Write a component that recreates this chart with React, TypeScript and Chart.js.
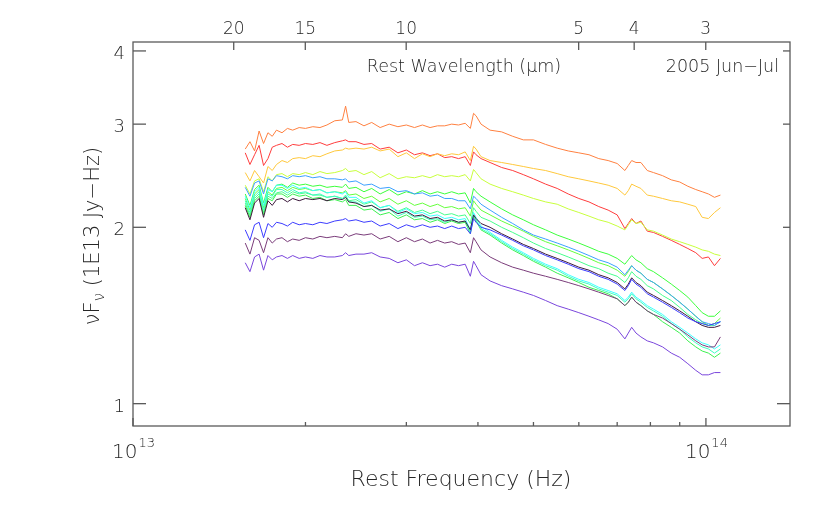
import React, { useEffect, useRef } from 'react';
import { Chart, registerables } from 'chart.js';

Chart.register(...registerables);

// Rest frequency in units of 1E13 Hz
const freq = [
  1.57, 1.60, 1.63, 1.66, 1.69, 1.72, 1.75, 1.78, 1.82, 1.86,
  1.90, 1.95, 2.00, 2.06, 2.12, 2.18, 2.25, 2.32, 2.35, 2.38,
  2.45, 2.53, 2.61, 2.70, 2.80, 2.90, 3.00, 3.10, 3.20, 3.30,
  3.40, 3.50, 3.60, 3.70, 3.80, 3.88, 3.93, 3.97, 4.05, 4.20,
  4.40, 4.60, 4.80, 5.00, 5.25, 5.50, 5.75, 6.00, 6.25, 6.50,
  6.75, 7.00, 7.22, 7.32, 7.42, 7.55, 7.70, 7.90, 8.10, 8.40,
  8.70, 9.00, 9.30, 9.60, 9.85, 10.10, 10.35, 10.60,
];

const orangeSeries = [
  2.72, 2.80, 2.70, 2.92, 2.78, 2.90, 2.86, 2.93, 2.90, 2.95,
  2.93, 2.96, 2.95, 2.97, 2.96, 2.99, 3.04, 3.05, 3.22, 3.02,
  3.03, 2.98, 3.02, 2.96, 3.00, 2.97, 2.99, 2.96, 2.99, 2.96,
  2.98, 2.98, 3.00, 2.99, 3.01, 2.95, 3.13, 3.10, 3.00, 2.93,
  2.91, 2.86, 2.82, 2.82, 2.77, 2.73, 2.70, 2.68, 2.66, 2.62,
  2.60, 2.57, 2.50, 2.55, 2.60, 2.58, 2.58, 2.50, 2.48, 2.45,
  2.41, 2.39, 2.35, 2.32, 2.30, 2.28, 2.25, 2.27,
];

const redSeries = [
  2.68, 2.56, 2.66, 2.76, 2.55, 2.62, 2.74, 2.76, 2.78, 2.74,
  2.77, 2.76, 2.78, 2.77, 2.79, 2.76, 2.79, 2.81, 2.82, 2.80,
  2.80, 2.77, 2.78, 2.72, 2.74, 2.68, 2.71, 2.66, 2.68, 2.65,
  2.67, 2.63, 2.64, 2.62, 2.64, 2.55, 2.69, 2.66, 2.62, 2.58,
  2.53, 2.50, 2.46, 2.42, 2.37, 2.33, 2.28, 2.24, 2.21, 2.17,
  2.14, 2.10, 1.99, 2.03, 2.07, 2.03, 2.05, 1.97, 1.96, 1.93,
  1.90, 1.87, 1.84, 1.81, 1.77, 1.78, 1.72, 1.77,
];

const goldSeries = [
  2.48, 2.40, 2.50, 2.44, 2.38, 2.54, 2.50, 2.56, 2.60, 2.58,
  2.62, 2.63, 2.62, 2.65, 2.64, 2.67, 2.70, 2.71, 2.73, 2.72,
  2.73, 2.72, 2.74, 2.70, 2.72, 2.64, 2.68, 2.62, 2.67, 2.64,
  2.67, 2.65, 2.67, 2.66, 2.69, 2.60, 2.75, 2.72, 2.64, 2.60,
  2.58, 2.56, 2.54, 2.52, 2.50, 2.47, 2.44, 2.42, 2.40, 2.38,
  2.36, 2.33, 2.27, 2.31, 2.37, 2.35, 2.33, 2.27, 2.26, 2.24,
  2.22, 2.21, 2.19, 2.17, 2.08, 2.07, 2.12, 2.16,
];

const yellowGreenSeries = [
  2.36, 2.28, 2.40, 2.42, 2.30, 2.44, 2.40, 2.46, 2.47, 2.44,
  2.47, 2.46, 2.48, 2.46, 2.49, 2.47, 2.48, 2.50, 2.52, 2.49,
  2.50, 2.46, 2.49, 2.43, 2.47, 2.42, 2.44, 2.43, 2.45, 2.43,
  2.46, 2.44, 2.45, 2.44, 2.46, 2.40, 2.51, 2.48, 2.42, 2.37,
  2.33, 2.30, 2.27, 2.24, 2.21, 2.19, 2.15, 2.12, 2.09, 2.06,
  2.04, 2.01, 1.98, 2.02, 2.06, 2.03, 2.04, 1.98, 1.97, 1.94,
  1.91, 1.89, 1.87, 1.85, 1.83, 1.82, 1.80, 1.79,
];

const greenTopSeries = [
  2.28, 2.18, 2.32, 2.36, 2.20, 2.34, 2.30, 2.36, 2.37, 2.34,
  2.38, 2.36, 2.37, 2.35, 2.36, 2.34, 2.35, 2.34, 2.37, 2.33,
  2.34, 2.30, 2.33, 2.28, 2.32, 2.27, 2.30, 2.28, 2.31, 2.28,
  2.30, 2.28, 2.30, 2.28, 2.29, 2.20, 2.33, 2.30, 2.26, 2.21,
  2.15, 2.10, 2.06, 2.02, 1.98, 1.94, 1.91, 1.88, 1.85, 1.82,
  1.80, 1.77, 1.73, 1.76, 1.79, 1.76, 1.74, 1.70, 1.68, 1.64,
  1.60, 1.56, 1.52, 1.47, 1.43, 1.41, 1.41, 1.44,
];

const skyBlueSeries = [
  2.34, 2.26, 2.38, 2.40, 2.28, 2.42, 2.40, 2.45, 2.44, 2.42,
  2.45, 2.44, 2.45, 2.43, 2.44, 2.42, 2.42, 2.41, 2.42, 2.39,
  2.40, 2.36, 2.37, 2.33, 2.34, 2.30, 2.31, 2.28, 2.29, 2.26,
  2.27, 2.24, 2.24, 2.22, 2.22, 2.15, 2.26, 2.24, 2.19, 2.14,
  2.08, 2.03, 1.98, 1.94, 1.91, 1.88, 1.85, 1.82, 1.79, 1.76,
  1.74, 1.71, 1.66, 1.69, 1.72, 1.69, 1.67, 1.63, 1.61, 1.57,
  1.53, 1.49, 1.45, 1.41, 1.38, 1.37, 1.36, 1.38,
];

const greenSecondSeries = [
  2.24, 2.14, 2.28, 2.32, 2.16, 2.30, 2.27, 2.33, 2.34, 2.31,
  2.34, 2.32, 2.33, 2.31, 2.32, 2.29, 2.30, 2.29, 2.31, 2.27,
  2.28, 2.24, 2.26, 2.21, 2.24, 2.19, 2.22, 2.18, 2.20, 2.17,
  2.19, 2.16, 2.17, 2.15, 2.16, 2.09, 2.22, 2.19, 2.14, 2.10,
  2.05, 2.01, 1.97, 1.93, 1.89, 1.86, 1.83, 1.80, 1.77, 1.74,
  1.72, 1.69, 1.65, 1.68, 1.72, 1.69, 1.67, 1.63, 1.61, 1.57,
  1.53, 1.49, 1.45, 1.41, 1.38, 1.36, 1.37, 1.40,
];

const greenThirdSeries = [
  2.20, 2.10, 2.24, 2.28, 2.12, 2.26, 2.24, 2.29, 2.30, 2.27,
  2.30, 2.28, 2.29, 2.27, 2.27, 2.25, 2.26, 2.24, 2.27, 2.22,
  2.23, 2.19, 2.21, 2.16, 2.18, 2.13, 2.16, 2.12, 2.14, 2.11,
  2.13, 2.10, 2.11, 2.09, 2.10, 2.03, 2.16, 2.13, 2.08, 2.05,
  2.00, 1.96, 1.92, 1.88, 1.84, 1.81, 1.78, 1.75, 1.72, 1.70,
  1.67, 1.65, 1.61, 1.64, 1.68, 1.65, 1.63, 1.59, 1.57, 1.53,
  1.50, 1.46, 1.42, 1.39, 1.37, 1.36, 1.36, 1.38,
];

const darkSeries = [
  2.16, 2.06, 2.20, 2.24, 2.08, 2.22, 2.18, 2.23, 2.24, 2.21,
  2.24, 2.22, 2.24, 2.23, 2.24, 2.22, 2.24, 2.23, 2.25, 2.21,
  2.20, 2.17, 2.18, 2.14, 2.15, 2.11, 2.13, 2.09, 2.10, 2.07,
  2.08, 2.05, 2.06, 2.04, 2.05, 1.98, 2.10, 2.07, 2.03, 2.00,
  1.95, 1.91, 1.87, 1.84, 1.80, 1.77, 1.74, 1.71, 1.69, 1.66,
  1.64, 1.61, 1.57, 1.60, 1.64, 1.61, 1.59, 1.55, 1.53, 1.50,
  1.47, 1.44, 1.41, 1.38, 1.36, 1.35, 1.35, 1.36,
];

const blueSeries = [
  1.98, 1.90, 2.02, 2.04, 1.92, 2.03, 2.00, 2.04, 2.03, 2.01,
  2.04, 2.02, 2.03, 2.02, 2.04, 2.03, 2.05, 2.06, 2.07, 2.05,
  2.06, 2.04, 2.05, 2.01, 2.03, 1.99, 2.02, 2.00, 2.02, 2.00,
  2.01, 1.99, 2.01, 1.99, 2.00, 1.95, 2.07, 2.04, 2.00, 1.98,
  1.94, 1.90, 1.86, 1.83, 1.79, 1.76, 1.73, 1.70, 1.68, 1.65,
  1.63, 1.60, 1.56, 1.59, 1.63, 1.60, 1.58, 1.54, 1.52, 1.49,
  1.46, 1.43, 1.40, 1.38, 1.37, 1.36, 1.37, 1.38,
];

const cyanSeries = [
  2.26, 2.16, 2.30, 2.34, 2.18, 2.32, 2.30, 2.36, 2.36, 2.33,
  2.36, 2.33, 2.34, 2.31, 2.32, 2.29, 2.30, 2.28, 2.30, 2.25,
  2.25, 2.20, 2.22, 2.16, 2.18, 2.12, 2.15, 2.11, 2.12, 2.09,
  2.10, 2.07, 2.08, 2.06, 2.07, 1.98, 2.12, 2.08, 2.01, 1.96,
  1.90, 1.85, 1.81, 1.77, 1.73, 1.70, 1.66, 1.63, 1.61, 1.58,
  1.56, 1.54, 1.50, 1.52, 1.55, 1.52, 1.50, 1.47, 1.45, 1.42,
  1.38, 1.35, 1.32, 1.29, 1.27, 1.26, 1.24, 1.26,
];

const aquaSeries = [
  2.22, 2.12, 2.26, 2.30, 2.14, 2.28, 2.26, 2.32, 2.32, 2.29,
  2.32, 2.29, 2.30, 2.27, 2.28, 2.25, 2.26, 2.24, 2.26, 2.21,
  2.21, 2.17, 2.18, 2.13, 2.15, 2.09, 2.12, 2.08, 2.09, 2.06,
  2.07, 2.04, 2.06, 2.04, 2.05, 1.96, 2.10, 2.06, 1.99, 1.95,
  1.89, 1.84, 1.80, 1.76, 1.72, 1.69, 1.65, 1.62, 1.60, 1.57,
  1.55, 1.53, 1.49, 1.51, 1.54, 1.51, 1.49, 1.46, 1.44, 1.41,
  1.37, 1.34, 1.30, 1.27, 1.25, 1.24, 1.22, 1.24,
];

const greenLowSeries = [
  2.18, 2.08, 2.22, 2.26, 2.10, 2.24, 2.22, 2.28, 2.28, 2.25,
  2.28, 2.26, 2.27, 2.24, 2.25, 2.22, 2.23, 2.21, 2.23, 2.18,
  2.18, 2.14, 2.15, 2.10, 2.12, 2.07, 2.10, 2.06, 2.07, 2.04,
  2.06, 2.03, 2.05, 2.03, 2.04, 1.95, 2.09, 2.05, 1.98, 1.94,
  1.88, 1.83, 1.79, 1.75, 1.71, 1.67, 1.64, 1.61, 1.58, 1.56,
  1.54, 1.51, 1.47, 1.49, 1.52, 1.49, 1.47, 1.44, 1.42, 1.38,
  1.35, 1.32, 1.28, 1.25, 1.23, 1.22, 1.20, 1.22,
];

const purpleSeries = [
  1.88, 1.80, 1.92, 1.90, 1.81, 1.92, 1.88, 1.91, 1.92, 1.89,
  1.91, 1.90, 1.92, 1.91, 1.93, 1.92, 1.93, 1.92, 1.95, 1.93,
  1.95, 1.94, 1.95, 1.91, 1.93, 1.89, 1.92, 1.89, 1.91, 1.88,
  1.90, 1.88, 1.89, 1.87, 1.88, 1.81, 1.92, 1.89, 1.83, 1.78,
  1.74, 1.71, 1.69, 1.67, 1.65, 1.63, 1.61, 1.59, 1.57, 1.55,
  1.53, 1.51, 1.47, 1.49, 1.52, 1.49, 1.47, 1.44, 1.42, 1.40,
  1.37, 1.34, 1.31, 1.28, 1.26, 1.25, 1.25, 1.30,
];

const violetSeries = [
  1.74, 1.68, 1.78, 1.80, 1.69, 1.79, 1.76, 1.78, 1.79, 1.77,
  1.79, 1.77, 1.78, 1.77, 1.79, 1.78, 1.78, 1.79, 1.81, 1.79,
  1.80, 1.80, 1.81, 1.78, 1.77, 1.74, 1.76, 1.72, 1.74, 1.72,
  1.73, 1.71, 1.73, 1.72, 1.73, 1.65, 1.75, 1.72, 1.66, 1.62,
  1.59, 1.57, 1.55, 1.53, 1.50, 1.47, 1.45, 1.43, 1.41, 1.39,
  1.37, 1.34, 1.29, 1.32, 1.35, 1.32, 1.30, 1.28, 1.27, 1.25,
  1.22, 1.20, 1.17, 1.14, 1.12, 1.12, 1.13, 1.13,
];

const seriesList = [
  violetSeries, purpleSeries, blueSeries, darkSeries, skyBlueSeries,
  cyanSeries, aquaSeries, greenLowSeries, greenThirdSeries, greenSecondSeries,
  greenTopSeries, yellowGreenSeries, goldSeries, orangeSeries, redSeries,
];
const seriesColors = [
  '#7a46dc', '#7a3c7a', '#3c3cff', '#3c1a3c', '#3ca0ff',
  '#3cffff', '#3cffc0', '#3cf050', '#46ff8c', '#64ff3c',
  '#3cff3c', '#c8ff3c', '#ffc83c', '#ff8040', '#ff3c3c',
];

// Axis annotations
const yTickValues = [1, 2, 3, 4];
const xMinorTicks = [2, 3, 4, 5, 6, 7, 8, 9];
const xMajorTicks = [1, 10];
const xMajorExponents = ['13', '14'];
const wavelengthTicks = [20, 15, 10, 5, 4, 3];
const lightSpeed = 29.98; // 1E13 Hz * micron

const TEXT = '#262626';
const AXIS = '#5a5a5a';
const FONT = '"DejaVu Sans", sans-serif';
const W = '200';

const decorPlugin = {
  id: 'decor',
  afterDraw(chart: any) {
    const { ctx, chartArea: a, scales } = chart;
    const xs = scales.x;
    const ys = scales.y;
    const line = (x1: number, y1: number, x2: number, y2: number) => {
      ctx.beginPath();
      ctx.moveTo(x1, y1);
      ctx.lineTo(x2, y2);
      ctx.stroke();
    };
    ctx.save();
    ctx.strokeStyle = AXIS;
    ctx.lineWidth = 1.3;
    ctx.strokeRect(a.left, a.top, a.right - a.left, a.bottom - a.top);

    // y ticks + labels
    ctx.fillStyle = TEXT;
    ctx.font = `${W} 18px ${FONT}`;
    ctx.textAlign = 'right';
    ctx.textBaseline = 'alphabetic';
    yTickValues.forEach((v) => {
      const py = ys.getPixelForValue(v);
      line(a.left, py, a.left + 13, py);
      const rl = v === 1 ? 13 : 7;
      line(a.right - rl, py, a.right, py);
      ctx.fillText(String(v), a.left - 8, py + 8);
    });

    // bottom ticks
    xMinorTicks.forEach((v) => {
      const px = xs.getPixelForValue(v);
      line(px, a.bottom, px, a.bottom - 4);
    });
    xMajorTicks.forEach((v, i) => {
      const px = xs.getPixelForValue(v);
      line(px, a.bottom, px, a.bottom - 8);
      ctx.textAlign = 'left';
      ctx.font = `${W} 20px ${FONT}`;
      ctx.fillText('10', px - 21, 458);
      const w = ctx.measureText('10').width;
      ctx.font = `${W} 13px ${FONT}`;
      ctx.fillText(xMajorExponents[i], px - 21 + w + 1, 447);
    });

    // top wavelength ticks
    ctx.font = `${W} 17px ${FONT}`;
    ctx.textAlign = 'center';
    wavelengthTicks.forEach((l) => {
      const px = xs.getPixelForValue(lightSpeed / l);
      line(px, a.top, px, a.top + 8);
      ctx.fillText(String(l), px, 34);
    });

    // titles
    ctx.font = `${W} 17.5px ${FONT}`;
    ctx.textAlign = 'center';
    ctx.fillText('Rest Wavelength (\u03bcm)', 464, 72);
    ctx.textAlign = 'right';
    ctx.fillText('2005 Jun\u2212Jul', 779, 72);

    ctx.font = `${W} 22px ${FONT}`;
    ctx.textAlign = 'center';
    ctx.fillText('Rest Frequency (Hz)', 461, 486);

    // y title rotated
    ctx.translate(99, 236);
    ctx.rotate(-Math.PI / 2);
    ctx.textAlign = 'left';
    const big = `${W} 21px ${FONT}`;
    const small = `${W} 15px ${FONT}`;
    ctx.font = big;
    const w1 = ctx.measureText('\u03bdF').width;
    ctx.font = small;
    const w2 = ctx.measureText('\u03bd').width;
    ctx.font = big;
    const rest = ' (1E13 Jy\u2212Hz)';
    const w3 = ctx.measureText(rest).width;
    let x0 = -(w1 + w2 + w3) / 2;
    ctx.fillText('\u03bdF', x0, 0);
    x0 += w1;
    ctx.font = small;
    ctx.fillText('\u03bd', x0, 5);
    x0 += w2;
    ctx.font = big;
    ctx.fillText(rest, x0, 0);
    ctx.restore();
  },
};

export default function App() {
  const ref = useRef<HTMLCanvasElement | null>(null);
  useEffect(() => {
    if (!ref.current) return;
    const datasets = seriesList.map((s, k) => ({
      data: freq.map((f, i) => ({ x: f, y: s[i] })),
      borderColor: seriesColors[k],
      borderWidth: 1,
      pointRadius: 0,
      showLine: true,
      fill: false,
      tension: 0,
    }));
    const chart = new Chart(ref.current, {
      type: 'scatter',
      data: { datasets },
      options: {
        animation: false,
        responsive: false,
        devicePixelRatio: 1,
        layout: { padding: { left: 133, right: 40, top: 42, bottom: 85 } },
        plugins: { legend: { display: false }, tooltip: { enabled: false } },
        scales: {
          x: { type: 'logarithmic', min: 1, max: 14.02, display: false },
          y: { type: 'logarithmic', min: 0.916, max: 4.143, display: false },
        },
      },
      plugins: [decorPlugin],
    } as any);
    return () => chart.destroy();
  }, []);
  return (
    <div style={{ position: 'absolute', left: 0, top: 0, width: 830, height: 511, background: '#fff' }}>
      <canvas ref={ref} width={830} height={511} style={{ width: 830, height: 511 }} />
    </div>
  );
}
